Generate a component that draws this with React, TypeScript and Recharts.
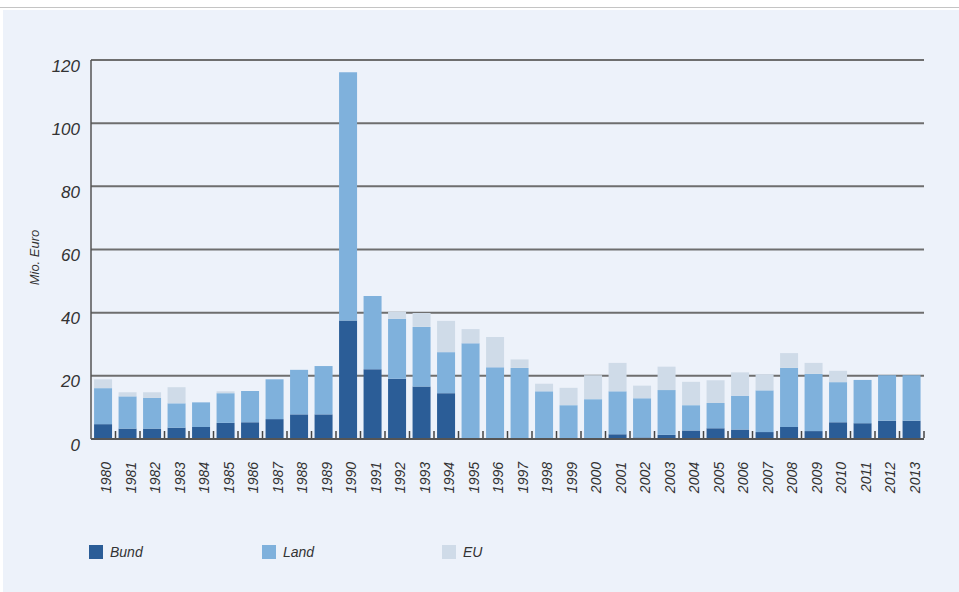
import React from 'react';
import { BarChart, Bar, XAxis, YAxis, CartesianGrid, Legend } from 'recharts';

const years = ['1980','1981','1982','1983','1984','1985','1986','1987','1988','1989','1990','1991','1992','1993','1994','1995','1996','1997','1998','1999','2000','2001','2002','2003','2004','2005','2006','2007','2008','2009','2010','2011','2012','2013'];
const bund = [4.7,3.3,3.3,3.6,3.8,5.1,5.3,6.3,7.8,7.8,37.5,22.1,19.1,16.6,14.5,0,0,0,0,0,0,1.5,0.5,1.3,2.7,3.4,3.0,2.2,3.8,2.5,5.3,5.0,5.8,5.8];
const land = [11.4,10.2,9.7,7.7,7.8,9.4,9.9,12.6,14.1,15.3,78.6,23.2,19.0,18.9,13.0,30.3,22.7,22.5,15.1,10.7,12.6,13.6,12.4,14.2,8.0,8.0,10.7,13.2,18.7,18.1,12.7,13.7,14.4,14.4];
const eu = [2.8,1.3,1.8,5.1,0,0.6,0,0,0,0,0,0,2.2,4.4,9.9,4.5,9.6,2.7,2.4,5.5,7.6,9.0,4.0,7.4,7.4,7.2,7.4,5.1,4.7,3.5,3.6,0,0,0];
const yTicks = [0,20,40,60,80,100,120];
const seriesNames = ['Bund','Land','EU'];
const colors = ['#2b5d97','#7fb1dc','#cfdbe8'];

const data = years.map((year, i) => ({ year, Bund: bund[i], Land: land[i], EU: eu[i] }));

const FONT = '"Liberation Sans", Arial, sans-serif';

const YTick = (props: any) => {
  const { x, y, payload } = props;
  return (
    <text x={x} y={y + 6} textAnchor="end" dominantBaseline="central" fontFamily={FONT} fontStyle="italic" fontSize={17} fill="#333">
      {payload.value}
    </text>
  );
};

const XTick = (props: any) => {
  const { x, y, payload, index, visibleTicksCount, width } = props;
  const half = payload && typeof payload.offset === 'number' && payload.offset > 0
    ? payload.offset
    : (width || 0) / (visibleTicksCount || 1) / 2;
  const tx = x + 3;
  const ty = y + 23;
  const count = visibleTicksCount || years.length;
  return (
    <g>
      {index > 0 && <line x1={x - half} x2={x - half} y1={y - 1} y2={y - 8} stroke="#444" strokeWidth={1.5} />}
      {index === count - 1 && <line x1={x + half} x2={x + half} y1={y - 1} y2={y - 8} stroke="#444" strokeWidth={1.5} />}
      <text x={tx} y={ty} transform={`rotate(-90, ${tx}, ${ty})`} textAnchor="end" dominantBaseline="central" fontFamily={FONT} fontStyle="italic" fontSize={14} fill="#333">
        {payload.value}
      </text>
    </g>
  );
};

const legendLeft = [89, 262, 442];

const renderLegend = (props: any) => {
  const payload = [...(props.payload || [])].sort(
    (a: any, b: any) => seriesNames.indexOf(a.value) - seriesNames.indexOf(b.value)
  );
  return (
    <div style={{ position: 'relative', height: 40, width: 959 }}>
      {payload.map((entry: any, i: number) => (
        <div key={entry.value} style={{ position: 'absolute', left: legendLeft[i], top: 13, display: 'flex', alignItems: 'center' }}>
          <div style={{ width: 14, height: 14, background: entry.color }} />
          <span style={{ marginLeft: 7, fontFamily: FONT, fontStyle: 'italic', fontSize: 14, color: '#333' }}>{entry.value}</span>
        </div>
      ))}
    </div>
  );
};

const YLabel = (props: any) => {
  const { viewBox } = props;
  const cx = viewBox.x + 24;
  const cy = viewBox.y + viewBox.height / 2 + 8;
  return (
    <text x={cx} y={cy} transform={`rotate(-90, ${cx}, ${cy})`} textAnchor="middle" dominantBaseline="central" fontFamily={FONT} fontStyle="italic" fontSize={13} fill="#333">
      Mio. Euro
    </text>
  );
};

export default function App() {
  return (
    <div style={{ position: 'absolute', left: 0, top: 0, width: 959, height: 592, background: '#fff', overflow: 'hidden' }}>
      <div style={{ position: 'absolute', left: 0, top: 7, width: 959, height: 1, background: '#c4c4c4' }} />
      <div style={{ position: 'absolute', left: 3, top: 10, width: 956, height: 582, background: '#edf2fa' }} />
      <div style={{ position: 'absolute', left: 0, top: 0 }}>
        <BarChart width={959} height={592} data={data} margin={{ top: 60, right: 35, left: 10, bottom: 21 }} barCategoryGap="12.5%">
          <CartesianGrid vertical={false} stroke="#6e6e6e" strokeWidth={2} />
          <XAxis dataKey="year" interval={0} tickSize={0} tickMargin={0} tickLine={false} height={92} axisLine={{ stroke: '#555', strokeWidth: 2 }} tick={<XTick />} />
          <YAxis domain={[0, 120]} ticks={yTicks} width={81} tickSize={0} tickMargin={11} tickLine={false} axisLine={{ stroke: '#555', strokeWidth: 1.5 }} tick={<YTick />} label={<YLabel />} />
          <Legend verticalAlign="bottom" content={renderLegend} wrapperStyle={{ left: 0, width: 959 }} />
          {seriesNames.map((name, i) => (
            <Bar key={name} dataKey={name} stackId="a" fill={colors[i]} isAnimationActive={false} />
          ))}
        </BarChart>
      </div>
    </div>
  );
}
